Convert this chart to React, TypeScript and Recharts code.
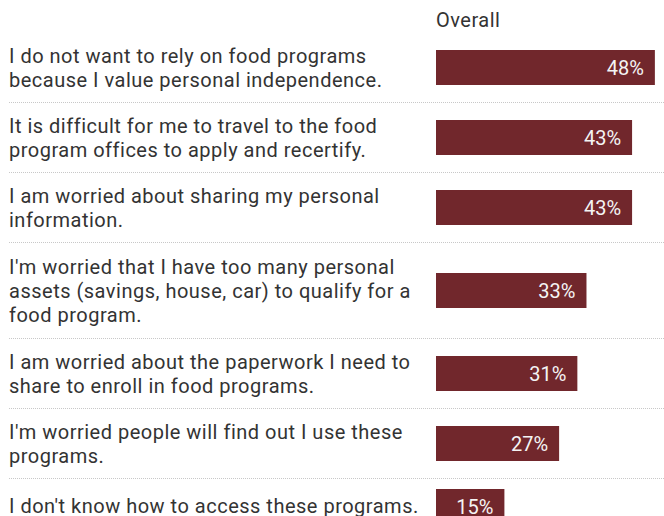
import React from "react";
import { BarChart, Bar, XAxis, YAxis, LabelList } from "recharts";

const categories = [
  "I do not want to rely on food programs because I value personal independence.",
  "It is difficult for me to travel to the food program offices to apply and recertify.",
  "I am worried about sharing my personal information.",
  "I'm worried that I have too many personal assets (savings, house, car) to qualify for a food program.",
  "I am worried about the paperwork I need to share to enroll in food programs.",
  "I'm worried people will find out I use these programs.",
  "I don't know how to access these programs.",
];
const overall = [48, 43, 43, 33, 31, 27, 15];
const header = "Overall";

const rowHeights = [70, 70, 70, 96, 70, 70, 54];
const BAR_COLOR = "#71272c";
const FONT = "Roboto, 'Noto Sans', sans-serif";

function Row({ label, value, height, last }: { label: string; value: number; height: number; last: boolean }) {
  const data = [{ name: label, value }];
  return (
    <div
      style={{
        display: "flex",
        alignItems: "center",
        height,
        boxSizing: "border-box",
        borderBottom: last ? "none" : "1px dotted #c8c8c8",
        marginLeft: 9,
      }}
    >
      <div
        style={{
          width: 427,
          fontSize: 20,
          lineHeight: "24px",
          letterSpacing: "0.5px",
          color: "#333",
          paddingRight: 10,
          boxSizing: "border-box",
        }}
      >
        {label}
      </div>
      <BarChart
        width={228}
        height={height - 1}
        data={data}
        layout="vertical"
        margin={{ top: 0, right: 0, bottom: 0, left: 0 }}
      >
        <XAxis type="number" domain={[0, 50]} hide />
        <YAxis type="category" dataKey="name" hide />
        <Bar dataKey="value" fill={BAR_COLOR} barSize={35} isAnimationActive={false}>
          <LabelList
            dataKey="value"
            position="insideRight"
            offset={11}
            fill="#f4f4f4"
            fontSize={20}
            fontFamily={FONT}
            formatter={(v: any) => `${v}%`}
          />
        </Bar>
      </BarChart>
    </div>
  );
}

export default function App() {
  return (
    <div
      style={{
        position: "fixed",
        top: 0,
        left: 0,
        width: 664,
        height: 516,
        overflow: "hidden",
        background: "#fff",
        fontFamily: FONT,
      }}
    >
      <div
        style={{
          height: 33,
          paddingLeft: 436,
          fontSize: 20,
          lineHeight: "40px",
          letterSpacing: "0.5px",
          color: "#333",
          boxSizing: "border-box",
        }}
      >
        {header}
      </div>
      {categories.map((c, i) => (
        <Row key={c} label={c} value={overall[i]} height={rowHeights[i]} last={i === categories.length - 1} />
      ))}
    </div>
  );
}
